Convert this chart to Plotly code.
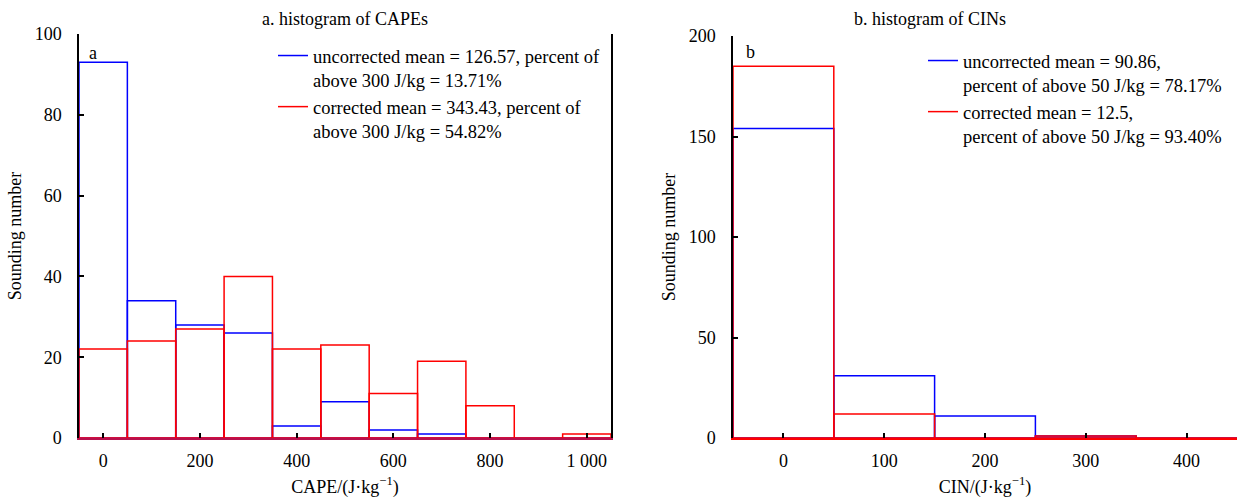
import plotly.graph_objects as go

# ---- data ----
cape_bins = [0, 100, 200, 300, 400, 500, 600, 700, 800, 900, 1000]
cape_uncorrected = [93, 34, 28, 26, 3, 9, 2, 1, 0, 0, 0]
cape_corrected = [22, 24, 27, 40, 22, 23, 11, 19, 8, 0, 1]

cin_bins = [0, 100, 200, 300, 400]
cin_uncorrected = [154, 31, 11, 1, 0]
cin_corrected = [185, 12, 0, 1, 0]

cape_ticks = [0, 200, 400, 600, 800, 1000]
cape_ticktext = ["0", "200", "400", "600", "800", "1 000"]
cin_ticks = [0, 100, 200, 300, 400]

leg_a = ["uncorrected mean = 126.57, percent of<br>above 300 J/kg = 13.71%",
         "corrected mean = 343.43, percent of<br>above 300 J/kg = 54.82%"]
leg_b = ["uncorrected mean = 90.86,<br>percent of above 50 J/kg = 78.17%",
         "corrected mean = 12.5,<br>percent of above 50 J/kg = 93.40%"]

BLUE = "#0000ff"
RED = "#ff0000"
FONT = "Liberation Serif"
W, H = 1237, 501
ML, MR, MT, MB = 79, 0, 34, 63
PW, PH = W - ML - MR, H - MT - MB

def px_x(p):   # pixel x -> paper fraction
    return (p - ML) / PW

def px_y(p):   # pixel y -> paper fraction
    return (H - MB - p) / PH

fig = go.Figure()

def bars(x, y, color, xa, ya):
    fig.add_trace(go.Bar(
        x=x, y=y, width=100, xaxis=xa, yaxis=ya, showlegend=False,
        marker=dict(color="rgba(0,0,0,0)", line=dict(color=color, width=1.5)),
        hoverinfo="x+y"))

bars(cape_bins, cape_uncorrected, BLUE, "x", "y")
bars(cape_bins, cape_corrected, RED, "x", "y")
bars(cin_bins, cin_uncorrected, BLUE, "x2", "y2")
bars(cin_bins, cin_corrected, RED, "x2", "y2")

# legend entries
for name, color in zip(leg_a, [BLUE, RED]):
    fig.add_trace(go.Scatter(x=[None], y=[None], mode="lines", name=name,
                             line=dict(color=color, width=1.5),
                             xaxis="x", yaxis="y", legend="legend"))
for name, color in zip(leg_b, [BLUE, RED]):
    fig.add_trace(go.Scatter(x=[None], y=[None], mode="lines", name=name,
                             line=dict(color=color, width=1.5),
                             xaxis="x2", yaxis="y2", legend="legend2"))

tickfont = dict(family=FONT, size=18, color="black")
titlefont = dict(family=FONT, size=18, color="black")

xa_common = dict(showgrid=False, zeroline=False, showline=True, linewidth=1.5,
                 ticks="inside", ticklen=5, tickwidth=1.5, tickcolor="black",
                 tickfont=tickfont, ticklabelstandoff=6, automargin=False)
ya_common = dict(showgrid=False, zeroline=False, showline=True, linewidth=1.5,
                 linecolor="black", mirror=True,
                 ticks="inside", ticklen=5, tickwidth=1.5, tickcolor="black",
                 tickfont=tickfont, ticklabelstandoff=12, automargin=False)

def label(text, x, y):
    return dict(text=text, x=px_x(x), y=px_y(y), xref="paper", yref="paper",
                xanchor="center", yanchor="middle", showarrow=False,
                font=dict(family=FONT, size=18, color="black"))

fig.update_layout(
    width=W, height=H,
    margin=dict(l=ML, r=MR, t=MT, b=MB, autoexpand=False),
    paper_bgcolor="white", plot_bgcolor="white",
    barmode="overlay",
    font=dict(family=FONT, size=18, color="black"),
    xaxis=dict(domain=[0, px_x(611)], anchor="y", range=[-50, 1050],
               tickvals=cape_ticks, ticktext=cape_ticktext, linecolor="#b8104c",
               title=dict(text="CAPE/(J·kg<sup>−1</sup>)", font=titlefont, standoff=10),
               **xa_common),
    yaxis=dict(domain=[0, 1], anchor="x", range=[0, 100],
               tickvals=[0, 20, 40, 60, 80, 100],
               title=dict(text="Sounding number", font=titlefont, standoff=8),
               **ya_common),
    xaxis2=dict(domain=[px_x(733), 1.0], anchor="y2", range=[-50, 450],
                tickvals=cin_ticks, linecolor=RED,
                title=dict(text="CIN/(J·kg<sup>−1</sup>)", font=titlefont, standoff=10),
                **xa_common),
    yaxis2=dict(domain=[0, px_y(36)], anchor="x2", range=[0, 200],
                tickvals=[0, 50, 100, 150, 200],
                title=dict(text="Sounding number", font=titlefont, standoff=8),
                **ya_common),
    legend=dict(x=px_x(273), y=px_y(37), xanchor="left", yanchor="top",
                bgcolor="rgba(0,0,0,0)", borderwidth=0, valign="top",
                itemwidth=30, tracegroupgap=0,
                font=dict(family=FONT, size=18.5, color="black")),
    legend2=dict(x=px_x(923), y=px_y(42), xanchor="left", yanchor="top",
                 bgcolor="rgba(0,0,0,0)", borderwidth=0, valign="top",
                 itemwidth=30, tracegroupgap=0,
                 font=dict(family=FONT, size=18.5, color="black")),
    annotations=[
        label("a. histogram of CAPEs", 345, 19),
        label("b. histogram of CINs", 930, 19),
        label("a", 93, 53),
        label("b", 750, 52),
    ],
)

fig.write_html("out.html")
